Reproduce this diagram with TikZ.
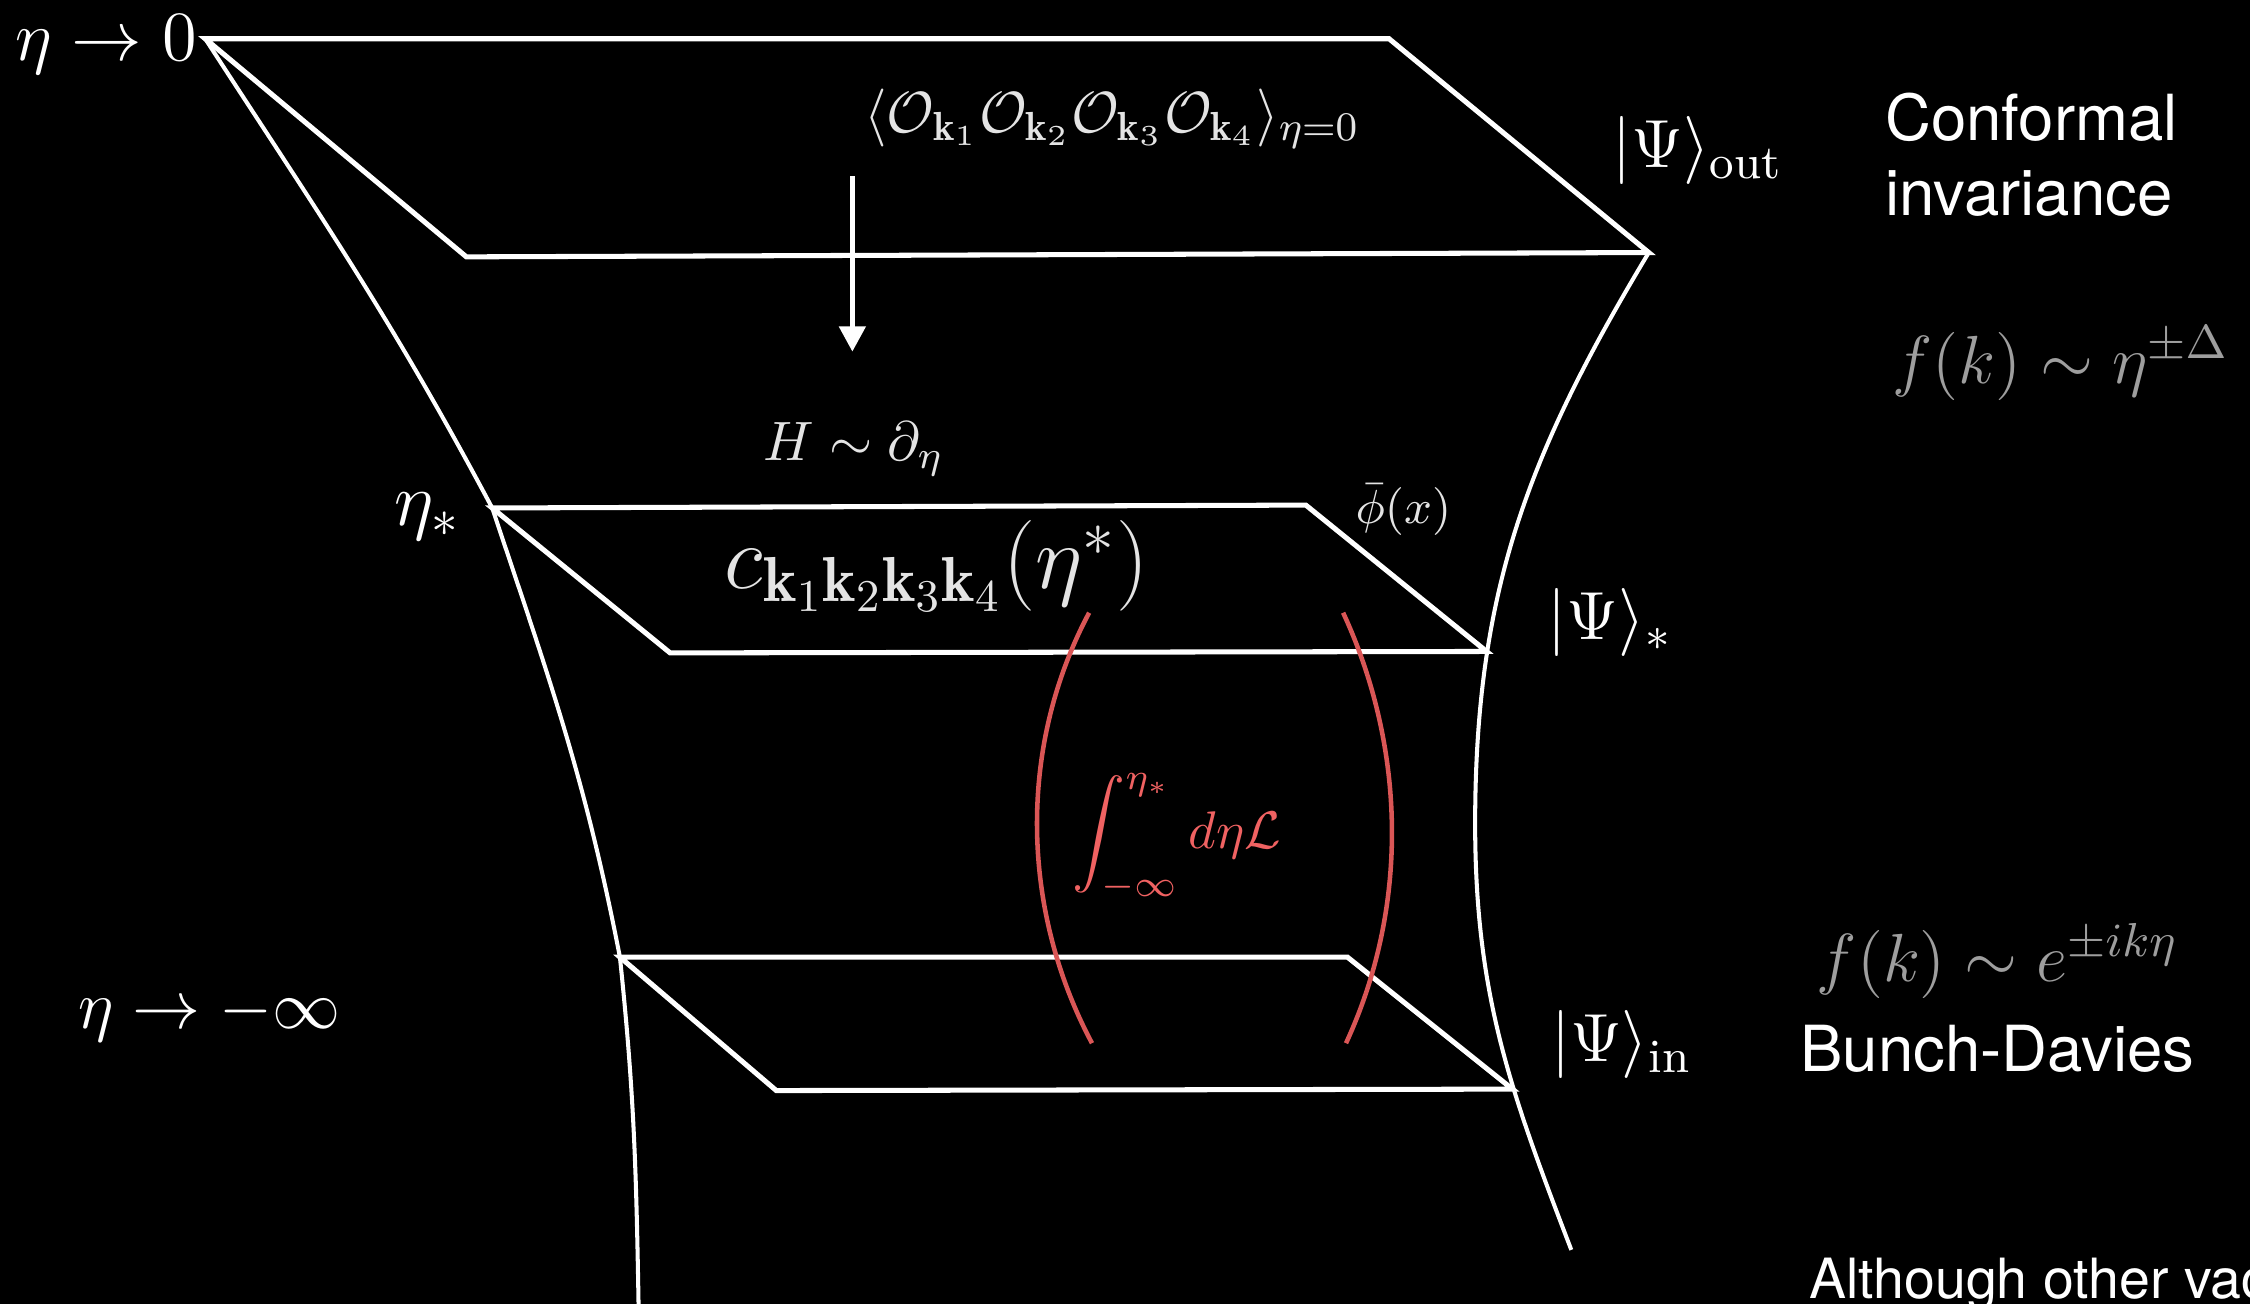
\RequirePackage{fix-cm}
\documentclass[tikz,border=0pt]{standalone}
\usepackage{amsmath,amssymb}
\usepackage{fontspec}
\newfontfamily\helv{TeX Gyre Heros}
\usepackage{tikz}
\usetikzlibrary{arrows.meta}
\definecolor{figback}{RGB}{0,0,0}
\definecolor{figline}{RGB}{255,255,255}
\definecolor{figsoft}{RGB}{228,228,228}
\definecolor{figdim}{RGB}{158,158,158}
\definecolor{figred}{RGB}{218,86,86}
\definecolor{figredtx}{RGB}{240,98,98}
\tikzset{
  pl/.style   ={draw=figline, line width=1pt, line join=miter},
  bd/.style   ={draw=figline, line width=0.8pt},
  redarc/.style ={draw=figred, line width=0.9pt},
  ptr/.style  ={draw=figline, line width=0.85pt, -{Triangle[length=5pt,width=5.2pt]}},
  lab/.style  ={text=figline, inner sep=0pt, anchor=base},
  labs/.style ={text=figsoft, inner sep=0pt, anchor=base},
  labd/.style ={text=figdim, inner sep=0pt, anchor=base},
  txt/.style  ={text=figline, inner sep=0pt, anchor=base west, font=\helv\fontsize{12.6}{15}\selectfont},
}

\begin{document}
\begin{tikzpicture}
  \fill[figback] (0,0) rectangle (15.68,9.09);
  \useasboundingbox (0,0) rectangle (15.68,9.09);
  \clip (0,0) rectangle (15.68,9.09);
  \coordinate (oTL) at (1.43,8.82);
  \coordinate (oTR) at (9.68,8.82);
  \coordinate (oBR) at (11.49,7.33);
  \coordinate (oBL) at (3.25,7.30);
  \coordinate (sTL) at (3.43,5.55);
  \coordinate (sTR) at (9.10,5.57);
  \coordinate (sBR) at (10.36,4.55);
  \coordinate (sBL) at (4.67,4.54);
  \coordinate (iTL) at (4.32,2.42);
  \coordinate (iTR) at (9.39,2.42);
  \coordinate (iBR) at (10.54,1.50);
  \coordinate (iBL) at (5.41,1.49);
  \coordinate (lEnd) at (4.45,0);
  \coordinate (rMid) at (10.28,3.35);
  \coordinate (rEnd) at (10.95,0.38);
  \draw[pl] (oTL) -- (oTR) -- (oBR) -- (oBL) -- cycle;
  \draw[pl] (sTL) -- (sTR) -- (sBR) -- (sBL) -- cycle;
  \draw[pl] (iTL) -- (iTR) -- (iBR) -- (iBL) -- cycle;
  \draw[bd] (oTL) to[out=-57,in=118] (sTL) to[out=-71.5,in=101] (iTL) to[out=-84,in=91] (lEnd);
  \draw[bd] (oBR) to[out=239,in=90] (rMid) to[out=-90,in=111] (rEnd);
  \coordinate (hs) at (5.94,7.86);
  \coordinate (he) at (5.94,6.64);
  \draw[ptr] (hs) -- (he);
  \coordinate (la1) at (7.59,4.82);
  \coordinate (la2) at (7.61,1.82);
  \coordinate (ra1) at (9.36,4.82);
  \coordinate (ra2) at (9.38,1.82);
  \draw[redarc] (la1) .. controls (7.09,3.88) and (7.115,2.75) .. (la2);
  \draw[redarc] (ra1) .. controls (9.80,3.87) and (9.82,2.77) .. (ra2);
  \node[lab, font=\fontsize{14}{16}\selectfont] (etazero) at (0.74,8.67) {$\eta\rightarrow 0$};
  \node[labs, font=\fontsize{11.5}{14}\selectfont] (corr) at (7.75,8.17) {$\langle\mathcal{O}_{\mathbf{k}_1}\mathcal{O}_{\mathbf{k}_2}\mathcal{O}_{\mathbf{k}_3}\mathcal{O}_{\mathbf{k}_4}\rangle_{\eta=0}$};
  \node[lab, font=\fontsize{13.5}{16}\selectfont] (psiout) at (11.83,7.92) {$|\Psi\rangle_{\mathrm{out}}$};
  \node[txt] (conf) at (13.13,8.11) {Conformal};
  \node[txt] (inv) at (13.13,7.59) {invariance};
  \node[labd, font=\fontsize{13.5}{16}\selectfont] (fpow) at (14.36,6.42) {$f(k)\sim\eta^{\pm\Delta}$};
  \node[labs, font=\fontsize{11}{13}\selectfont] (ham) at (5.95,5.88) {$H\sim\partial_\eta$};
  \node[lab, font=\fontsize{15}{17}\selectfont] (etastar) at (2.98,5.43) {$\eta_*$};
  \node[labs, font=\fontsize{9.5}{11}\selectfont] (phibar) at (9.78,5.44) {$\bar\phi(x)$};
  \node[labs, font=\fontsize{18}{21}\selectfont] (wavec) at (6.53,4.99) {$c_{\mathbf{k}_1\mathbf{k}_2\mathbf{k}_3\mathbf{k}_4}(\eta^*)$};
  \node[lab, font=\fontsize{13.5}{16}\selectfont] (psistar) at (11.22,4.63) {$|\Psi\rangle_*$};
  \node[inner sep=0pt, anchor=base, text=figredtx, font=\fontsize{10.5}{13}\selectfont] (intL) at (8.20,3.18) {$\displaystyle\int_{-\infty}^{\eta_*}d\eta\mathcal{L}$};
  \node[labd, font=\fontsize{13.5}{16}\selectfont] (fexp) at (13.92,2.25) {$f(k)\sim e^{\pm ik\eta}$};
  \node[lab, font=\fontsize{13.5}{16}\selectfont] (psiin) at (11.30,1.69) {$|\Psi\rangle_{\mathrm{in}}$};
  \node[txt] (bunch) at (12.54,1.62) {Bunch-Davies};
  \node[lab, font=\fontsize{13.5}{16}\selectfont] (etainf) at (1.46,1.92) {$\eta\rightarrow-\infty$};
  \node[txt, font=\helv\fontsize{11}{13}\selectfont] (other) at (12.60,0.04) {Although other vac};
\end{tikzpicture}
\end{document}
